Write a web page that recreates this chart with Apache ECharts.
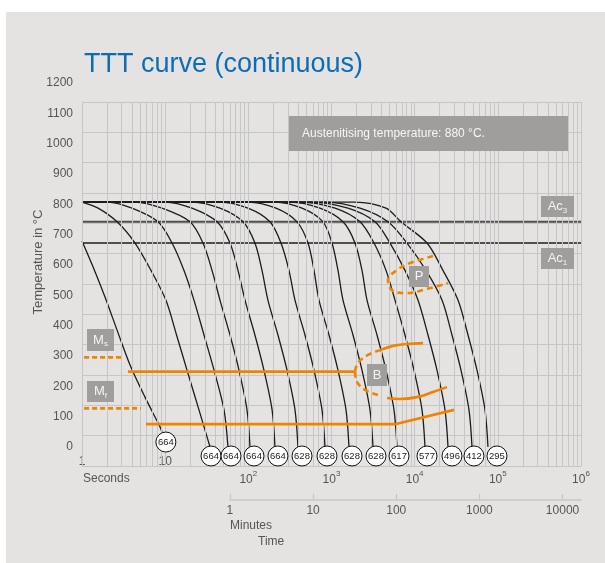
<!DOCTYPE html>
<html><head><meta charset="utf-8">
<script src="https://cdn.jsdelivr.net/npm/echarts@6.0.0/dist/echarts.min.js"></script>
<style>
html,body{margin:0;padding:0;background:#fff;}
#wrap{position:relative;width:605px;height:563px;overflow:hidden;}
#panel{position:absolute;left:6px;top:12px;width:599px;height:551px;background:#e4e3e2;}
#chart{position:absolute;left:0;top:0;width:605px;height:563px;}
</style></head><body>
<div id="wrap"><div id="panel"></div><div id="chart"></div></div>
<script>
// ---- data (time in seconds, temperature in °C) ----
const secondsDecades = [1, 10, 100, 1000, 10000, 100000, 1000000];
const minorMultipliers = [2, 3, 4, 5, 6, 7, 8, 9];
const minuteTicks = [1, 10, 100, 1000, 10000];
const ac3Temp = 805;
const ac1Temp = 735;

const curve1  = [[1,742],[1.36,656],[1.89,557],[2.64,448],[3.78,333],[5.72,227],[8.67,129],[9.16,112]];
const curve2  = [[1,870],[1.56,850],[2.64,805],[4.34,735],[6.75,645],[10.2,547],[13.7,432],[18.3,316],[25.5,185],[34.6,63]];
const curve3  = [[1,870],[2.05,870],[3.99,850],[8.2,805],[12.1,735],[16.8,645],[22.2,547],[29.3,432],[38.7,316],[51.0,185],[56.9,63]];
const curve4  = [[1,870],[4.34,870],[9.16,850],[19.9,805],[28.5,735],[36.6,645],[45.6,547],[60.2,432],[77.2,316],[96.4,185],[104.7,63]];
const curve5  = [[1,870],[9.95,870],[21.0,850],[42.0,805],[60.2,735],[75.1,645],[91.2,547],[120,432],[154,316],[193,185],[209,63]];
const curve6  = [[1,870],[21.0,870],[45.6,850],[86.3,805],[120,735],[146,645],[172,547],[227,432],[292,316],[364,185],[395,63]];
const curve7  = [[1,870],[45.6,870],[99.1,850],[182,805],[247,735],[308,645],[364,547],[480,432],[616,316],[769,185],[835,63]];
const curve8  = [[1,870],[99.1,870],[215,850],[385,805],[522,735],[616,645],[707,547],[933,432],[1197,316],[1494,185],[1623,63]];
const curve9  = [[1,870],[209,870],[442,850],[790,805],[1014,735],[1197,645],[1375,547],[1813,432],[2326,316],[2903,185],[3155,63]];
const curve10 = [[1,870],[317,870],[727,850],[1375,805],[1916,735],[2326,645],[2672,547],[3524,432],[4522,316],[5640,185],[6131,63]];
const curve11 = [[1,870],[418,870],[1102,850],[2201,805],[3243,735],[4522,645],[5800,547],[7647,432],[9813,316],[12250,185],[13310,63]];
const curve12 = [[1,870],[551,870],[1579,850],[3334,805],[5050,735],[7647,645],[10960,547],[14460,432],[18550,316],[23150,185],[25160,63]];
const curve13 = [[1,870],[835,870],[2201,850],[4778,805],[8085,735],[13680,645],[21310,547],[28100,432],[36060,316],[44990,185],[48900,63]];
const curve14 = [[1,870],[1916,870],[4522,850],[6847,805],[14070,735],[21900,645],[33190,547],[43770,432],[56150,316],[70070,185],[76100,63]];

const circleTime = [10.2, 35.6, 61.9, 117, 227, 442, 883, 1764, 3428, 6480, 14070, 28100, 51660, 97660];
const circleTemp = [79, 33, 33, 33, 33, 33, 33, 33, 33, 33, 33, 33, 33, 33];
const hardness   = [664, 664, 664, 664, 664, 628, 628, 628, 628, 617, 577, 496, 412, 295];

const msLine = [[1.06,358],[3.2,358]];
const mfLine = [[1.06,190],[5.12,190]];
const bainiteStart = [[3.57,311],[1916,311]];
const bainiteUpperDash = [[1916,311],[2083,340],[2747,366],[3828,382]];
const bainiteUpper = [[3828,382],[5488,396],[8085,402],[12600,405]];
const bainiteLowerDash = [[1916,311],[2025,277],[2527,251],[3622,234]];
const bainiteLower = [[4648,224],[6660,221],[10660,227],[16610,244],[24470,260]];
const bainiteEnd = [[5.88,138],[5800,138],[29700,185]];
const pearlite = [[16610,692],[8784,669],[6131,646],[4778,613],[5488,577],[8085,570],[14070,584],[25160,603]];

// ---- chart ----
const FONT = 'Liberation Sans, Arial, Helvetica, sans-serif';
const GRID = '#c6c6c6';
const TXT = '#555555';
const ORANGE = '#f08300';
const BOX = '#9f9e9d';

const gridXs = [];
secondsDecades.forEach(d => { gridXs.push(d); if (d < 1000000) minorMultipliers.forEach(m => gridXs.push(m * d)); });

const curves = [curve1,curve2,curve3,curve4,curve5,curve6,curve7,curve8,curve9,curve10,curve11,curve12,curve13,curve14];

const series = [];
series.push({
  type: 'line', data: [], silent: true, z: 1,
  markLine: { silent: true, symbol: ['none','none'], label: {show:false},
    lineStyle: {color: GRID, width: 1, type: 'solid'},
    data: gridXs.map(v => ({xAxis: v})) }
});
series.push({type:'line', data:[[1,ac3Temp],[1000000,ac3Temp]], symbol:'none', lineStyle:{color:'#4f4f4f', width:2}, z:3});
series.push({type:'line', data:[[1,ac1Temp],[1000000,ac1Temp]], symbol:'none', lineStyle:{color:'#4f4f4f', width:2}, z:3});
curves.forEach(c => series.push({
  type:'line', data:c, symbol:'none', smooth:0.3,
  lineStyle:{color:'#1c1c1c', width:1.3}, z:4
}));
const orangeSolid = {color: ORANGE, width: 2.6};
const orangeDash = {color: ORANGE, width: 2.6, type: [6,4]};
[[bainiteStart, orangeSolid, false],[bainiteUpper, orangeSolid, true],[bainiteLower, orangeSolid, true],[bainiteEnd, orangeSolid, false],
 [bainiteUpperDash, orangeDash, true],[bainiteLowerDash, orangeDash, true],[pearlite, orangeDash, true],
 [msLine, {color: ORANGE, width: 2.6, type:[5,3]}, false],[mfLine, {color: ORANGE, width: 2.6, type:[5,3]}, false]
].forEach(([d, ls, sm]) => series.push({type:'line', data:d, symbol:'none', smooth: sm ? 0.4 : false, lineStyle: ls, z:5}));

series.push({
  type:'scatter', z:10, symbol:'circle', symbolSize:20,
  data: circleTime.map((t,i) => [t, circleTemp[i], hardness[i]]),
  itemStyle:{color:'#ffffff', borderColor:'#111', borderWidth:1, opacity:1},
  label:{show:true, position:'inside', formatter: p => String(p.data[2]), color:'#222', fontSize:9.5, fontFamily:FONT}
});

function box(x, y, w, h) {
  return {type:'rect', shape:{x:x, y:y, width:w, height:h}, style:{fill:BOX}, z:20};
}
function boxText(x, y, text, rich) {
  return {type:'text', x:x, y:y, z:21, style:{text:text, fill:'#f4f4f4', font:'13px ' + FONT, align:'center', verticalAlign:'middle', rich: rich}};
}
const subRich = {m:{fontSize:13, fill:'#f4f4f4', color:'#f4f4f4', fontFamily:FONT}, s:{fontSize:8, fill:'#f4f4f4', color:'#f4f4f4', fontFamily:FONT, padding:[8,0,0,0]}};

const option = {
  animation: false,
  backgroundColor: 'transparent',
  grid: [
    {left: 82, right: 24, top: 102, height: 364},
    {left: 229.9, right: 24, top: 470, height: 30},
    {left: 82, right: 24, top: 83, height: 364}
  ],
  xAxis: [
    {type:'log', logBase:10, min:1, max:1000000, gridIndex:0, position:'bottom',
     axisLine:{show:true, lineStyle:{color:GRID, width:1}}, axisTick:{show:false}, splitLine:{show:false},
     axisLabel:{color:TXT, fontSize:12, fontFamily:FONT, margin:4,
       formatter: v => { const n = Math.round(Math.log10(v)); return n >= 2 ? '{b|10}{s|' + n + '}' : ''; },
       rich:{b:{fontSize:12, color:TXT, fontFamily:FONT, lineHeight:16, verticalAlign:'bottom'}, s:{fontSize:8, color:TXT, fontFamily:FONT, lineHeight:16, verticalAlign:'top'}}}},
    {type:'log', logBase:10, min:1, max:1000000, gridIndex:0, position:'bottom', offset:0,
     axisLine:{show:false}, axisTick:{show:false}, splitLine:{show:false},
     axisLabel:{color:TXT, fontSize:12, fontFamily:FONT, margin:-10,
       formatter: v => { const n = Math.round(Math.log10(v)); return n < 2 ? String(Math.round(v)) : ''; }}},
    {type:'log', logBase:10, min:1, max:1000000/60, gridIndex:1, position:'bottom',
     axisLine:{show:true, lineStyle:{color:GRID, width:1.5}},
     axisTick:{show:true, inside:true, length:6, lineStyle:{color:GRID, width:1.2}, customValues: minuteTicks},
     splitLine:{show:false},
     axisLabel:{color:TXT, fontSize:12, fontFamily:FONT, margin:5, customValues: minuteTicks,
       formatter: v => (v > 10001 ? '' : String(Math.round(v)))}},
    {type:'value', gridIndex:2, show:false, min:0, max:1}
  ],
  yAxis: [
    {type:'value', min:0, max:1200, interval:100, gridIndex:0,
     axisLine:{show:true, lineStyle:{color:GRID, width:1}}, axisTick:{show:false},
     splitLine:{show:true, lineStyle:{color:GRID, width:1}}, axisLabel:{show:false}},
    {type:'value', gridIndex:1, show:false, min:0, max:1},
    {type:'value', min:0, max:1200, interval:100, gridIndex:2,
     axisLine:{show:false}, axisTick:{show:false}, splitLine:{show:false},
     axisLabel:{color:TXT, fontSize:12, fontFamily:FONT, margin:9, formatter: v => String(v)}}
  ],
  series: series,
  graphic: [
    {type:'text', x:84, y:65, z:20, style:{text:'TTT curve (continuous)', fill:'#0b6db7', font:'27px ' + FONT, verticalAlign:'middle'}},
    {type:'text', x:38, y:262, rotation:Math.PI/2, z:20, style:{text:'Temperature in °C', fill:TXT, font:'13px ' + FONT, align:'center', verticalAlign:'middle'}},
    {type:'text', x:83, y:479, z:20, style:{text:'Seconds', fill:TXT, font:'12px ' + FONT, verticalAlign:'middle'}},
    {type:'text', x:230, y:526, z:20, style:{text:'Minutes', fill:TXT, font:'12px ' + FONT, verticalAlign:'middle'}},
    {type:'text', x:258, y:542, z:20, style:{text:'Time', fill:TXT, font:'12px ' + FONT, verticalAlign:'middle'}},
    box(289, 116, 279, 35),
    {type:'text', x:302, y:133.5, z:21, style:{text:'Austenitising temperature: 880 °C.', fill:'#f6f6f6', font:'12px ' + FONT, verticalAlign:'middle'}},
    box(541, 196, 33, 21), boxText(557.5, 206.5, '{m|Ac}{s|3}', subRich),
    box(541, 248, 33, 21), boxText(557.5, 258.5, '{m|Ac}{s|1}', subRich),
    box(409, 266, 20, 21), boxText(419, 276.5, 'P'),
    box(367, 364, 20, 22), boxText(377, 375, 'B'),
    box(87, 329, 27, 22), boxText(100.5, 340, '{m|M}{s|s}', subRich),
    box(87, 381, 27, 21), boxText(100.5, 391.5, '{m|M}{s|f}', subRich)
  ]
};
const chart = echarts.init(document.getElementById('chart'), null, {renderer:'canvas'});
chart.setOption(option);
</script></body></html>
